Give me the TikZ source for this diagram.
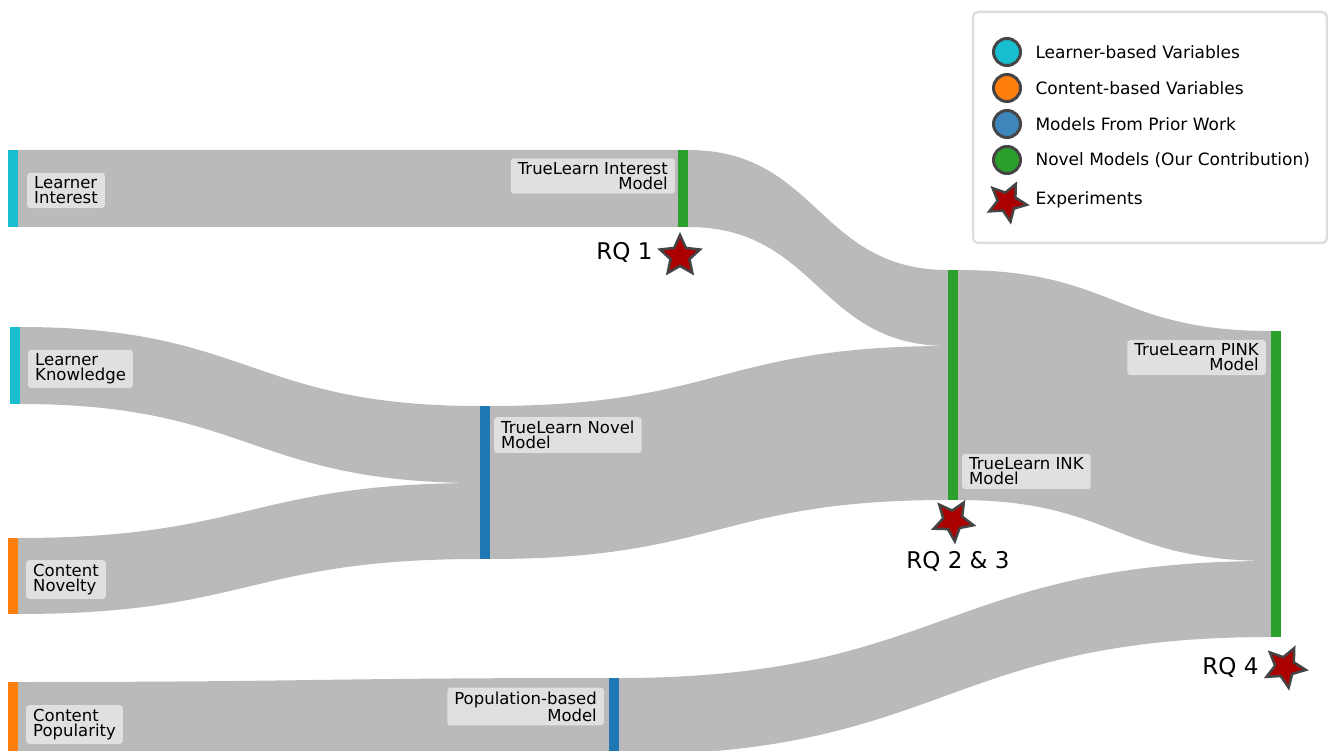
\documentclass[tikz,border=0pt]{standalone}
\usepackage{fontspec}
\usepackage{tikz}
\usetikzlibrary{shapes.geometric,calc}
\setmainfont{DejaVu Sans}
\definecolor{learner}{HTML}{17BECF}
\definecolor{content}{HTML}{FF7F0E}
\definecolor{prior}{HTML}{1F77B4}
\definecolor{priorleg}{HTML}{3D87BD}
\definecolor{novel}{HTML}{2CA02C}
\definecolor{linkgray}{RGB}{186,186,186}
\definecolor{boxgray}{RGB}{224,224,224}
\definecolor{legframe}{RGB}{221,221,221}
\definecolor{starred}{HTML}{AA0000}
\definecolor{rim}{HTML}{444444}
% band between two bars: top/bottom at start, top/bottom at end, half gap
\newcommand{\band}[5]{\fill[linkgray] (#1) .. controls +(#5,0) and +(-#5,0) .. (#3) -- (#4) .. controls +(-#5,0) and +(#5,0) .. (#2) -- cycle;}

\begin{document}
\begin{tikzpicture}[x=1pt,y=-1pt,
    bar/.style={fill=#1,inner sep=0pt,outer sep=0pt,minimum width=10pt},
    lbl/.style={fill=boxgray,rounded corners=3pt,inner xsep=7pt,inner ysep=4pt,font=\fontsize{16.5}{15}\selectfont},
    rq/.style={font=\fontsize{23}{23}\selectfont},
    exper/.style={star,star points=5,star point ratio=2.1,fill=starred,draw=rim,line width=2.5pt,minimum size=42pt,inner sep=0pt},
    dot/.style={circle,fill=#1,draw=rim,line width=3pt,minimum size=27pt,inner sep=0pt},
    legtext/.style={anchor=west,font=\fontsize{17}{17}\selectfont}]
    \useasboundingbox (0,0) rectangle (1328,751);

    % bars
    \node[bar=learner,minimum height=77pt] (li) at (13,188.5) {};
    \node[bar=learner,minimum height=77pt] (lk) at (15,365.5) {};
    \node[bar=content,minimum height=76pt] (cn) at (13,576) {};
    \node[bar=content,minimum height=76pt] (cp) at (13,720) {};
    \node[bar=novel,minimum height=77pt] (tli) at (683,188.5) {};
    \node[bar=prior,minimum height=153pt] (nov) at (485,482.5) {};
    \node[bar=prior,minimum height=77pt] (pop) at (614,716.5) {};
    \node[bar=novel,minimum height=230pt] (ink) at (953,385) {};
    \node[bar=novel,minimum height=306pt] (pink) at (1276,484) {};
    \coordinate (nov-a) at ($(nov.north west)+(0,77)$);
    \coordinate (ink-a) at ($(ink.north west)+(0,76)$);
    \coordinate (pink-a) at ($(pink.north west)+(0,230)$);

    % links
    \band{li.north east}{li.south east}{tli.north west}{tli.south west}{330}
    \band{tli.north east}{tli.south east}{ink.north west}{ink-a}{130}
    \band{lk.north east}{lk.south east}{nov.north west}{nov-a}{230}
    \band{cn.north east}{cn.south east}{nov-a}{nov.south west}{231}
    \band{nov.north east}{nov.south east}{ink-a}{ink.south west}{229}
    \band{ink.north east}{ink.south east}{pink.north west}{pink-a}{156}
    \band{cp.north east}{cp.south east}{pop.north west}{pop.south west}{295}
    \band{pop.north east}{pop.south east}{pink-a}{pink.south west}{326}

    % redraw bars over the links
    \foreach \b/\c in {li/learner,lk/learner,cn/content,cp/content,tli/novel,nov/prior,pop/prior,ink/novel,pink/novel}
        \fill[\c] (\b.north west) rectangle (\b.south east);

    % labels
    \node[lbl,anchor=west,align=left] (li-t) at (27,190.5) {Learner\\Interest};
    \node[lbl,anchor=east,align=right] (tli-t) at (675,176) {TrueLearn Interest\\Model};
    \node[lbl,anchor=west,align=left] (lk-t) at (28,369) {Learner\\Knowledge};
    \node[lbl,anchor=west,align=left] (nov-t) at (494,435) {TrueLearn Novel\\Model};
    \node[lbl,anchor=west,align=left] (cn-t) at (26,579.5) {Content\\Novelty};
    \node[lbl,anchor=west,align=left] (ink-t) at (962,471.5) {TrueLearn INK\\Model};
    \node[lbl,anchor=east,align=right] (pink-t) at (1266,357.5) {TrueLearn PINK\\Model};
    \node[lbl,anchor=west,align=left] (cp-t) at (26,724.5) {Content\\Popularity};
    \node[lbl,anchor=east,align=right] (pop-t) at (604,706.5) {Population-based\\Model};

    % experiments
    \node[exper] (rq1) at (680,256) {};
    \node[rq,anchor=east] (rq1-t) at (656,252) {RQ 1};
    \node[exper,shape border rotate=185] (rq23) at (953,520.5) {};
    \node[rq] (rq23-t) at (958,561) {RQ 2 \& 3};
    \node[exper,shape border rotate=190] (rq4) at (1285,667) {};
    \node[rq,anchor=east] (rq4-t) at (1262,667) {RQ 4};

    % legend
    \draw[legframe,line width=2.5pt,rounded corners=5pt] (973,12) rectangle (1327,243);
    \node[dot=learner] (k1) at (1007,52) {};
    \node[dot=content] (k2) at (1007,88) {};
    \node[dot=priorleg] (k3) at (1007,124) {};
    \node[dot=novel] (k4) at (1007,160) {};
    \node[exper,minimum size=40pt,shape border rotate=190] (k5) at (1007,202) {};
    \node[legtext] at (1032,52) {Learner-based Variables};
    \node[legtext] at (1032,88) {Content-based Variables};
    \node[legtext] at (1032,124) {Models From Prior Work};
    \node[legtext] at (1032,160) {Novel Models (Our Contribution)};
    \node[legtext] at (1032,200) {Experiments};
\end{tikzpicture}
\end{document}
